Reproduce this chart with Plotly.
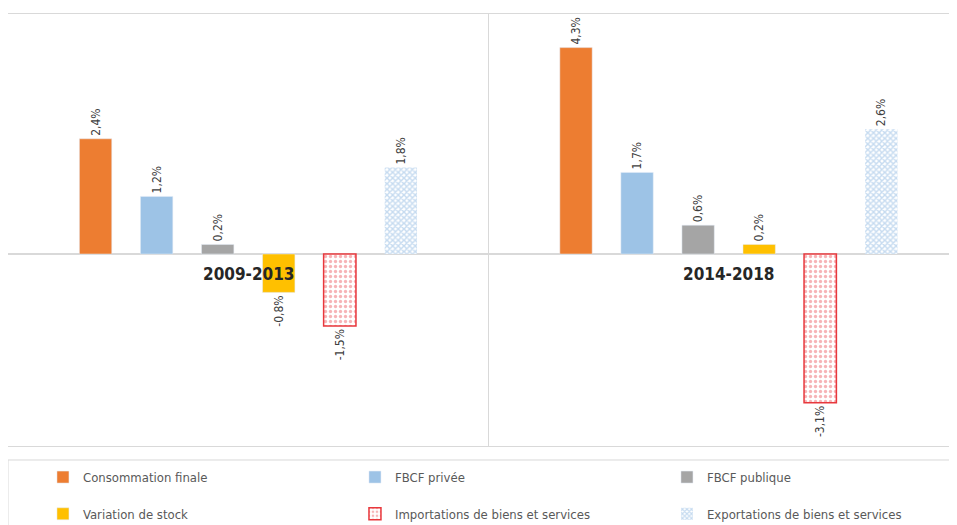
import plotly.graph_objects as go

categories = ["2009-2013", "2014-2018"]
series_names = [
    "Consommation finale",
    "FBCF privée",
    "FBCF publique",
    "Variation de stock",
    "Importations de biens et services",
    "Exportations de biens et services",
]
conso = [2.4, 4.3]
fbcf_privee = [1.2, 1.7]
fbcf_publique = [0.2, 0.6]
variation_stock = [-0.8, 0.2]
importations = [-1.5, -3.1]
exportations = [1.8, 2.6]

values = [conso, fbcf_privee, fbcf_publique, variation_stock, importations, exportations]

colors = ["#ED7D31", "#9DC3E6", "#A5A5A5", "#FFC000", "#E8383D", "#9DC3E6"]

LAB_FONT = "Liberation Sans Narrow, DejaVu Sans Condensed, Arial Narrow, sans-serif"
CAT_FONT = "DejaVu Sans Condensed, Liberation Sans Narrow, sans-serif"


def fmt(v):
    return ("%.1f" % v).replace(".", ",") + "%"


fig = go.Figure()
for i, (name, vals) in enumerate(zip(series_names, values)):
    marker = dict(color=colors[i])
    if i == 4:
        marker = dict(
            color="white",
            line=dict(color="#E8383D", width=1.5),
            pattern=dict(shape=".", fgcolor="#EE6A70", bgcolor="white", size=5, solidity=0.35),
        )
    elif i == 5:
        marker = dict(
            color="white",
            line=dict(width=0),
            pattern=dict(shape="x", fgcolor="#8DB8E2", bgcolor="white", size=4, solidity=0.6),
        )
    fig.add_trace(
        go.Bar(
            name=name,
            x=categories,
            y=vals,
            marker=marker,
            text=[fmt(v) for v in vals],
            textposition="outside",
            textangle=-90,
            constraintext="none",
            cliponaxis=False,
            textfont=dict(family=CAT_FONT, size=12, color="#404040"),
            legend="legend" if i < 3 else "legend2",
        )
    )

# category labels at the zero line
for c in categories:
    fig.add_annotation(
        x=c, y=0, xref="x", yref="y", yanchor="top", yshift=-8,
        text="<b>%s</b>" % c, showarrow=False,
        font=dict(family=CAT_FONT, size=17, color="#262626"),
    )

# legend box
fig.add_shape(type="rect", xref="paper", yref="paper",
              x0=0, x1=1, y0=-0.19, y1=-0.0324,
              line=dict(color="#D9D9D9", width=1), fillcolor="rgba(0,0,0,0)")

legend_common = dict(
    orientation="h", xanchor="left", yanchor="middle",
    entrywidth=267, entrywidthmode="pixels",
    font=dict(family=LAB_FONT, size=13, color="#595959"),
    bgcolor="rgba(0,0,0,0)", borderwidth=0,
)

fig.update_layout(
    width=949, height=517,
    margin=dict(l=0, r=4, t=6, b=79, autoexpand=False),
    paper_bgcolor="white", plot_bgcolor="white",
    barmode="group", bargap=0.2375, bargroupgap=0.47,
    showlegend=True,
    legend=dict(x=0.037, y=-0.072, **legend_common),
    legend2=dict(x=0.037, y=-0.157, **legend_common),
    xaxis=dict(
        range=[-0.5, 1.467], showticklabels=False, ticks="",
        tickson="boundaries", showgrid=True, gridcolor="#D9D9D9", gridwidth=1,
        showline=True, linecolor="#D9D9D9", mirror=True, zeroline=False,
    ),
    yaxis=dict(
        range=[-4, 5], showticklabels=False, showgrid=False,
        zeroline=True, zerolinecolor="#D9D9D9", zerolinewidth=2,
        showline=True, linecolor="#E6E6E6", mirror=True,
    ),
)

fig.write_html("out.html")
